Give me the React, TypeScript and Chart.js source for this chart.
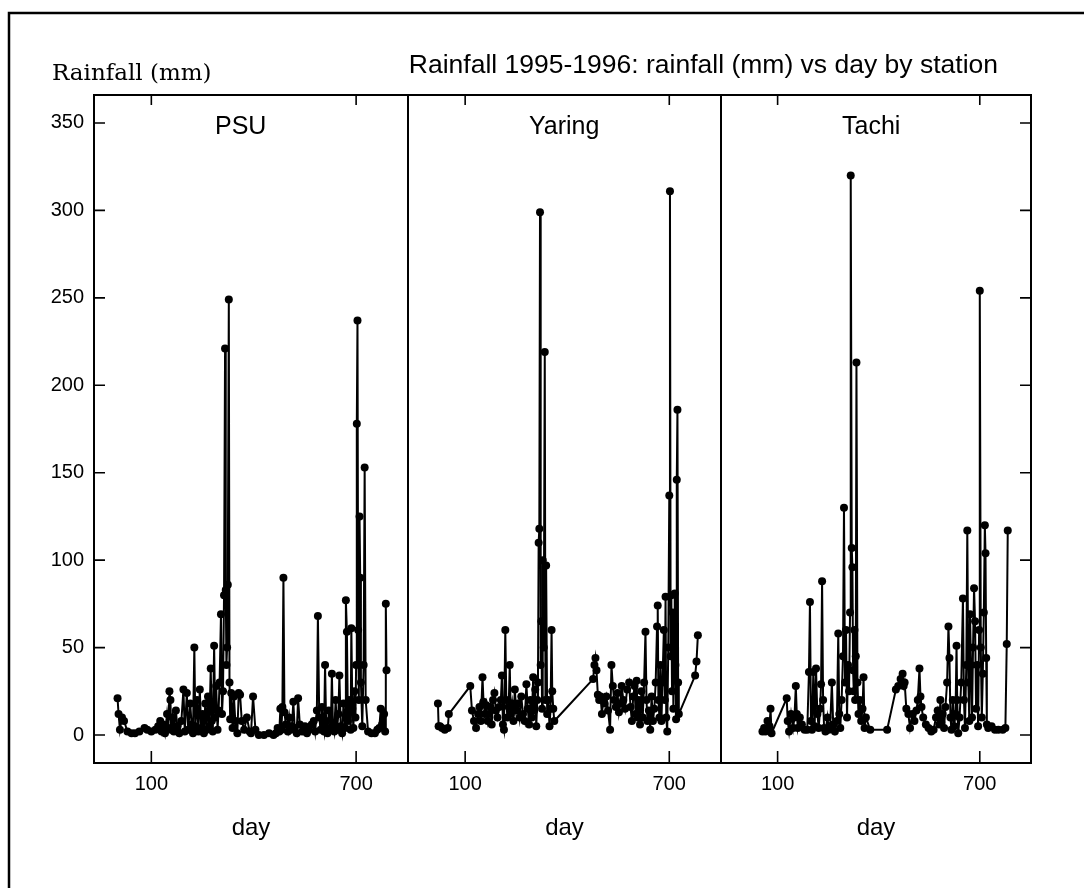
import React, { useEffect, useRef } from 'react';
import { Chart, registerables } from 'chart.js';

Chart.register(...registerables);

const TITLE = 'Rainfall 1995-1996: rainfall (mm) vs day by station';
const Y_TITLE = 'Rainfall (mm)';
const X_TITLE = 'day';
const STATIONS = ['PSU', 'Yaring', 'Tachi'];
const Y_TICKS = [0, 50, 100, 150, 200, 250, 300, 350];
const X_TICKS = [100, 700];

const PSU_DAY = [1, 4, 8, 14, 20, 30, 42, 52, 65, 80, 88, 100, 112, 120, 126, 130, 135, 140, 146, 150, 153, 156, 158, 162, 166, 172, 176, 182, 188, 194, 198, 204, 208, 214, 218, 222, 226, 229, 234, 238, 242, 246, 250, 254, 258, 262, 266, 270, 274, 277, 280, 284, 287, 290, 294, 297, 300, 304, 307, 310, 313, 316, 318, 320, 322, 324, 327, 329, 331, 334, 338, 342, 346, 352, 356, 360, 365, 372, 380, 388, 392, 398, 405, 415, 430, 445, 458, 465, 470, 475, 478, 481, 484, 487, 490, 494, 500, 504, 508, 512, 516, 520, 526, 530, 535, 542, 550, 556, 562, 570, 576, 580, 585, 588, 592, 596, 600, 603, 606, 609, 612, 616, 620, 626, 629, 632, 636, 640, 644, 648, 651, 655, 659, 663, 668, 670, 673, 676, 679, 684, 686, 689, 692, 695, 698, 700, 702, 704, 706, 708, 710, 712, 714, 718, 722, 725, 728, 735, 745, 755, 762, 768, 772, 776, 782, 785, 787, 789];
const PSU_MM = [21, 12, 3, 10, 8, 2, 1, 1, 2, 4, 3, 2, 3, 5, 8, 2, 6, 1, 12, 4, 25, 20, 3, 10, 2, 14, 5, 1, 8, 26, 2, 24, 3, 18, 6, 1, 50, 5, 20, 2, 26, 4, 12, 1, 18, 3, 22, 5, 38, 8, 2, 51, 10, 28, 3, 14, 30, 69, 12, 25, 80, 221, 83, 40, 50, 86, 249, 30, 9, 24, 4, 22, 8, 1, 24, 23, 8, 3, 10, 2, 1, 22, 3, 0, 0, 1, 0, 1, 4, 2, 15, 3, 16, 90, 13, 6, 2, 10, 3, 5, 19, 4, 1, 21, 6, 2, 5, 1, 3, 6, 8, 2, 14, 68, 10, 3, 16, 5, 2, 40, 8, 1, 14, 4, 35, 6, 2, 20, 3, 12, 34, 5, 1, 18, 4, 77, 59, 8, 20, 3, 61, 15, 4, 25, 10, 40, 178, 237, 60, 20, 125, 90, 30, 5, 40, 153, 20, 2, 1, 1, 3, 4, 15, 6, 12, 2, 75, 37, 1];

const YARING_DAY = [20, 22, 26, 32, 40, 49, 52, 115, 120, 126, 132, 138, 142, 146, 151, 154, 158, 162, 166, 170, 174, 178, 182, 186, 190, 195, 200, 205, 208, 211, 214, 218, 221, 224, 228, 231, 234, 238, 242, 246, 250, 255, 260, 265, 270, 275, 280, 284, 288, 292, 296, 300, 303, 306, 309, 312, 314, 316, 318, 320, 322, 324, 326, 328, 331, 334, 336, 338, 341, 344, 348, 351, 354, 356, 359, 362, 476, 480, 483, 486, 490, 494, 498, 502, 506, 510, 515, 520, 526, 530, 534, 538, 543, 548, 552, 556, 560, 565, 570, 576, 582, 586, 590, 594, 598, 601, 604, 607, 610, 614, 618, 622, 626, 630, 633, 636, 640, 644, 648, 652, 656, 660, 664, 666, 668, 671, 674, 677, 680, 684, 687, 689, 691, 694, 697, 700, 702, 704, 706, 708, 710, 712, 714, 716, 718, 720, 722, 724, 726, 728, 776, 780, 784];
const YARING_MM = [18, 5, 5, 4, 3, 4, 12, 28, 14, 8, 4, 12, 16, 8, 33, 19, 12, 17, 8, 12, 16, 6, 20, 24, 14, 10, 16, 20, 34, 6, 3, 60, 20, 10, 16, 40, 12, 18, 8, 26, 14, 18, 10, 22, 12, 8, 29, 15, 6, 20, 10, 33, 14, 26, 5, 20, 30, 110, 118, 299, 40, 65, 15, 100, 50, 219, 20, 97, 12, 20, 5, 15, 60, 25, 15, 8, 32, 40, 44, 37, 23, 20, 22, 12, 20, 18, 22, 14, 3, 40, 28, 20, 16, 24, 13, 18, 28, 20, 15, 26, 30, 16, 8, 22, 28, 12, 31, 10, 20, 6, 25, 10, 30, 59, 20, 8, 14, 3, 22, 8, 15, 30, 62, 74, 20, 10, 40, 8, 30, 60, 20, 79, 10, 2, 50, 137, 311, 45, 80, 25, 70, 15, 55, 81, 40, 9, 146, 186, 30, 12, 34, 42, 57];

const TACHI_DAY = [55, 60, 64, 70, 76, 79, 82, 127, 130, 134, 140, 146, 150, 154, 157, 160, 166, 172, 180, 188, 193, 196, 199, 202, 206, 210, 214, 218, 222, 226, 229, 232, 235, 238, 242, 248, 252, 256, 261, 265, 270, 276, 280, 283, 286, 290, 294, 297, 300, 303, 306, 309, 312, 315, 317, 320, 322, 324, 326, 328, 330, 332, 334, 337, 340, 344, 348, 352, 355, 358, 362, 375, 425, 451, 458, 465, 471, 474, 477, 482, 488, 493, 500, 506, 512, 516, 521, 524, 527, 532, 540, 548, 556, 563, 570, 575, 580, 583, 586, 590, 594, 598, 603, 607, 610, 613, 616, 620, 624, 628, 631, 633, 636, 640, 645, 650, 653, 656, 660, 663, 666, 669, 671, 674, 677, 680, 683, 686, 689, 692, 695, 698, 700, 703, 706, 709, 712, 715, 717, 719, 721, 725, 735, 745, 755, 768, 776, 780, 783];
const TACHI_MM = [2, 4, 2, 8, 5, 15, 1, 21, 8, 2, 12, 4, 10, 28, 12, 4, 10, 6, 3, 3, 36, 76, 8, 3, 36, 5, 38, 12, 4, 15, 29, 88, 20, 4, 2, 10, 3, 5, 30, 6, 2, 8, 58, 12, 4, 20, 45, 130, 30, 60, 10, 40, 25, 70, 320, 107, 96, 37, 25, 60, 20, 45, 213, 30, 12, 20, 8, 15, 33, 4, 10, 3, 3, 26, 28, 32, 35, 28, 30, 15, 12, 4, 12, 8, 14, 20, 38, 22, 16, 10, 6, 4, 2, 3, 10, 14, 6, 20, 7, 12, 4, 16, 30, 62, 44, 10, 3, 20, 5, 12, 51, 20, 1, 10, 30, 78, 20, 4, 40, 117, 30, 8, 69, 40, 10, 50, 84, 65, 15, 40, 5, 60, 254, 50, 10, 35, 70, 120, 104, 44, 6, 4, 5, 3, 3, 3, 4, 52, 117];

const SANS = '"Liberation Sans", Arial, sans-serif';
const SERIF = '"DejaVu Serif", serif';
const X_IDS = ['x1', 'x2', 'x3'];
const PANEL_WEIGHTS = [314, 313, 310];

export default function App() {
  const ref = useRef<HTMLCanvasElement>(null);

  useEffect(() => {
    if (!ref.current) return;
    const series: [number[], number[]][] = [
      [PSU_DAY, PSU_MM],
      [YARING_DAY, YARING_MM],
      [TACHI_DAY, TACHI_MM],
    ];
    const datasets = series.map(([days, mm], i) => ({
      label: STATIONS[i],
      data: days.map((d, j) => ({ x: d, y: mm[j] })),
      xAxisID: X_IDS[i],
      yAxisID: 'y',
      borderColor: '#000',
      backgroundColor: '#000',
      borderWidth: 2,
      pointRadius: 4,
      pointBorderWidth: 0,
      pointBackgroundColor: '#000',
      tension: 0,
      fill: false,
    }));

    const xScale = (i: number) => ({
      type: 'linear',
      position: 'bottom',
      stack: 'panels',
      stackWeight: PANEL_WEIGHTS[i],
      min: -68,
      max: 852,
      afterBuildTicks: (s: any) => {
        s.ticks = X_TICKS.map((v) => ({ value: v }));
      },
      afterFit: (s: any) => {
        s.height = 80;
      },
      grid: { display: false, drawTicks: false },
      border: { display: false },
      ticks: {
        color: '#000',
        font: { family: SANS, size: 20 },
        padding: 9,
        maxRotation: 0,
        autoSkip: false,
      },
      title: {
        display: true,
        text: X_TITLE,
        color: '#000',
        font: { family: SANS, size: 24 },
        padding: { top: 0, bottom: 0 },
      },
    });

    const framePlugin = {
      id: 'trellisFrame',
      afterDatasetsDraw(chart: any) {
        const { ctx, chartArea: a, scales } = chart;
        ctx.save();
        ctx.strokeStyle = '#000';
        ctx.lineWidth = 2;
        ctx.strokeRect(a.left, a.top, a.right - a.left, a.bottom - a.top);
        ctx.beginPath();
        ['x1', 'x2'].forEach((id) => {
          const s = scales[id];
          ctx.moveTo(s.right, a.top);
          ctx.lineTo(s.right, a.bottom);
        });
        ctx.stroke();

        ctx.lineWidth = 1.6;
        ctx.beginPath();
        X_IDS.forEach((id) => {
          const s = scales[id];
          X_TICKS.forEach((v) => {
            const px = s.getPixelForValue(v);
            ctx.moveTo(px, a.bottom);
            ctx.lineTo(px, a.bottom - 12);
            ctx.moveTo(px, a.top);
            ctx.lineTo(px, a.top + 10);
          });
        });
        const y = scales.y;
        Y_TICKS.forEach((v) => {
          const py = y.getPixelForValue(v);
          ctx.moveTo(a.left, py);
          ctx.lineTo(a.left + 11, py);
          ctx.moveTo(a.right, py);
          ctx.lineTo(a.right - 11, py);
        });
        ctx.stroke();

        // outer frame
        ctx.lineWidth = 2.5;
        ctx.beginPath();
        ctx.moveTo(9, chart.height);
        ctx.lineTo(9, 13);
        ctx.lineTo(chart.width, 13);
        ctx.stroke();

        ctx.fillStyle = '#000';
        ctx.textBaseline = 'alphabetic';
        ctx.textAlign = 'left';
        ctx.font = `23px ${SERIF}`;
        ctx.fillText(Y_TITLE, a.left - 42, a.top - 15);
        ctx.textAlign = 'right';
        ctx.font = `26.5px ${SANS}`;
        ctx.fillText(TITLE, a.right - 33, a.top - 22);
        ctx.textAlign = 'left';
        ctx.font = `25px ${SANS}`;
        X_IDS.forEach((id, i) => {
          const s = scales[id];
          ctx.fillText(STATIONS[i], s.left + 121, a.top + 39);
        });
        ctx.restore();
      },
    };

    const chart = new Chart(ref.current, {
      type: 'line',
      data: { datasets } as any,
      options: {
        responsive: false,
        animation: false,
        devicePixelRatio: 1,
        layout: { padding: { top: 95, right: 53, bottom: 45, left: 0 } },
        plugins: {
          legend: { display: false },
          tooltip: { enabled: false },
          title: { display: false },
        },
        scales: {
          x1: xScale(0),
          x2: xScale(1),
          x3: xScale(2),
          y: {
            type: 'linear',
            position: 'left',
            min: -16,
            max: 366,
            afterBuildTicks: (s: any) => {
              s.ticks = Y_TICKS.map((v) => ({ value: v }));
            },
            afterFit: (s: any) => {
              s.width = 94;
            },
            grid: { display: false, drawTicks: false },
            border: { display: false },
            ticks: {
              color: '#000',
              font: { family: SANS, size: 20 },
              padding: 10,
            },
          },
        } as any,
      },
      plugins: [framePlugin],
    });
    return () => chart.destroy();
  }, []);

  return (
    <div style={{ position: 'absolute', left: 0, top: 0, width: 1084, height: 888, background: '#fff' }}>
      <canvas ref={ref} width={1084} height={888} style={{ display: 'block', width: 1084, height: 888 }} />
    </div>
  );
}
